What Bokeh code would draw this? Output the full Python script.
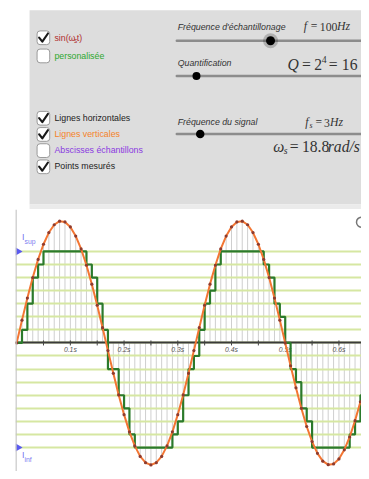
import math
from bokeh.plotting import figure
from bokeh.layouts import column
from bokeh.models import Range1d, Span
from bokeh.core.properties import value
from bokeh.embed import file_html
from bokeh.resources import INLINE

# ---------------- data ----------------
sample_times = [0.00, 0.01, 0.02, 0.03, 0.04, 0.05, 0.06, 0.07, 0.08, 0.09,
                0.10, 0.11, 0.12, 0.13, 0.14, 0.15, 0.16, 0.17, 0.18, 0.19,
                0.20, 0.21, 0.22, 0.23, 0.24, 0.25, 0.26, 0.27, 0.28, 0.29,
                0.30, 0.31, 0.32, 0.33, 0.34, 0.35, 0.36, 0.37, 0.38, 0.39,
                0.40, 0.41, 0.42, 0.43, 0.44, 0.45, 0.46, 0.47, 0.48, 0.49,
                0.50, 0.51, 0.52, 0.53, 0.54, 0.55, 0.56, 0.57, 0.58, 0.59,
                0.60, 0.61, 0.62, 0.63, 0.64]
measured = [0.000, 0.187, 0.368, 0.536, 0.685, 0.809, 0.905, 0.969, 0.998, 0.992,
            0.951, 0.876, 0.771, 0.637, 0.482, 0.309, 0.125, -0.063, -0.249, -0.426,
            -0.588, -0.729, -0.844, -0.930, -0.982, -1.000, -0.982, -0.930, -0.844, -0.729,
            -0.588, -0.426, -0.249, -0.063, 0.125, 0.309, 0.482, 0.637, 0.771, 0.876,
            0.951, 0.992, 0.998, 0.969, 0.905, 0.809, 0.685, 0.536, 0.368, 0.187,
            0.000, -0.187, -0.368, -0.536, -0.685, -0.809, -0.905, -0.969, -0.998, -0.992,
            -0.951, -0.876, -0.771, -0.637, -0.482]
held_steps = [0, 1, 3, 5, 6, 7, 7, 7, 7, 7,
              7, 7, 7, 6, 5, 3, 1, -2, -2, -4,
              -5, -7, -8, -8, -8, -8, -8, -8, -8, -7,
              -6, -4, -2, -1, 1, 3, 4, 6, 7, 7,
              7, 7, 7, 7, 7, 7, 6, 5, 3, 2,
              0, -2, -3, -5, -6, -8, -8, -8, -8, -8,
              -8, -8, -7, -6, -4]
quant_levels = [-0.858, -0.750, -0.643, -0.536, -0.429, -0.322, -0.214, -0.107,
                0.0, 0.107, 0.214, 0.322, 0.429, 0.536, 0.643, 0.750]
hold_end = 0.65
tick_values = [0.1, 0.2, 0.3, 0.4, 0.5, 0.6]
tick_labels = ["0.1s", "0.2s", "0.3s", "0.4s", "0.5s", "0.6s"]
tick_marks = [0.05, 0.1, 0.15, 0.2, 0.25, 0.3, 0.35, 0.4, 0.45, 0.5, 0.55, 0.6]

held_y = [quant_levels[n + 8] for n in held_steps]

W = 361
H_TOP = 209
H_CHART = 262
S = 0.978  # overall scale of the layout
SANS = value("Liberation Sans")
SERIF = value("Liberation Serif")


def fs(px):
    return f"{px * S:.2f}px"


# ---------------- control panel ----------------
top = figure(width=W, height=H_TOP, x_range=Range1d(0, 369), y_range=Range1d(213, 0),
             output_backend="svg", toolbar_location=None,
             x_axis_location=None, y_axis_location=None, min_border=0,
             outline_line_color=None, background_fill_color="white",
             border_fill_color="white")
top.grid.visible = False
top.quad(left=[15], right=[369], top=[10], bottom=[208], fill_color="#dddddd", line_color=None)
top.quad(left=[15], right=[369], top=[208], bottom=[213], fill_color="#ebebeb", line_color=None)


def txt(x, y, s, size, color="#333333", font=SANS, style="normal"):
    top.text(x=[x], y=[y], text=[s], text_font=font, text_font_size=fs(size),
             text_font_style=style, text_color=color, text_baseline="middle",
             text_align="left")


boxes = [(31, True), (49.5, False), (113, True), (129.5, True), (146, False), (162.5, True)]
for ytop, checked in boxes:
    top.quad(left=[23], right=[36.5], top=[ytop], bottom=[ytop + 14], fill_color="white",
             line_color="#9a9a9a", line_width=1, border_radius=3)
    if checked:
        top.multi_line(xs=[[25.2, 28.6, 34.6]], ys=[[ytop + 6.8, ytop + 11, ytop + 2.6]],
                       line_color="#1a1a1a", line_width=2.1, line_join="round", line_cap="round")

txt(41.5, 38, "sin(ω", 9, "#b02e2e")
txt(62.3, 40.5, "s", 6.5, "#b02e2e")
txt(65.3, 38, "t)", 9, "#b02e2e")
txt(41.5, 56.5, "personalisée", 9, "#2ea82e")
txt(41.5, 119.5, "Lignes horizontales", 9, "#222222")
txt(41.5, 136, "Lignes verticales", 9, "#f5822a")
txt(41.5, 152.5, "Abscisses échantillons", 9, "#8a3ae0")
txt(41.5, 169, "Points mesurés", 9, "#222222")

for ys in (41, 77, 136):
    top.segment(x0=[172], y0=[ys], x1=[369], y1=[ys], line_color="#8c8c8c",
                line_width=2.4, line_cap="round")
top.scatter(x=[272], y=[41], size=15, fill_color="black", fill_alpha=0.2, line_color=None)
top.scatter(x=[272], y=[41], size=9, fill_color="black", line_color=None)
top.scatter(x=[193], y=[77], size=8, fill_color="black", line_color=None)
top.scatter(x=[197], y=[136], size=8.5, fill_color="black", line_color=None)

txt(173, 27, "Fréquence d'échantillonage", 9, "#333333", style="italic")
txt(173, 64, "Quantification", 9, "#333333", style="italic")
txt(173, 124, "Fréquence du signal", 9, "#333333", style="italic")

txt(307.5, 27, "f", 12, "#333333", SERIF, "italic")
txt(315, 27, "=", 12, "#333333", SERIF)
txt(324.5, 27, "100", 12, "#333333", SERIF)
txt(343, 27, "Hz", 12, "#333333", SERIF, "italic")

txt(290, 65.5, "Q", 16, "#333333", SERIF, "italic")
txt(305.5, 65.5, "=", 16, "#333333", SERIF)
txt(318.5, 65.5, "2", 16, "#333333", SERIF)
txt(326.5, 60.5, "4", 10, "#333333", SERIF)
txt(334, 65.5, "=", 16, "#333333", SERIF)
txt(348, 65.5, "16", 16, "#333333", SERIF)

txt(309, 124.5, "f", 12, "#333333", SERIF, "italic")
txt(313.5, 127.5, "s", 8, "#333333", SERIF, "italic")
txt(320, 124.5, "=", 12, "#333333", SERIF)
txt(329, 124.5, "3", 12, "#333333", SERIF)
txt(335.5, 124.5, "Hz", 12, "#333333", SERIF, "italic")

txt(275, 149, "ω", 16, "#333333", SERIF, "italic")
txt(286, 152.5, "s", 10, "#333333", SERIF, "italic")
txt(292.5, 149, "=", 16, "#333333", SERIF)
txt(305.5, 149, "18.8", 16, "#333333", SERIF)
txt(333, 149, "rad/s", 16, "#333333", SERIF, "italic")

# ---------------- signal chart ----------------
chart = figure(width=W, height=H_CHART, x_range=Range1d(-0.0021, 0.642),
               y_range=Range1d(-1.054, 1.094), output_backend="svg",
               toolbar_location=None, x_axis_location=None, y_axis_location=None,
               min_border=0, min_border_left=15, outline_line_color=None,
               background_fill_color="white", border_fill_color="white")
chart.grid.visible = False

# vertical lines (stems)
chart.segment(x0=sample_times, y0=[0] * len(sample_times), x1=sample_times, y1=measured,
              line_color="#cfcfcf", line_width=1)
# horizontal quantisation lines
chart.hspan(y=quant_levels, line_color="#d6e7a2", line_width=2)
# time axis
chart.hspan(y=[0], line_color="#3a3a3a", line_width=1.8)
chart.scatter(x=tick_marks, y=[0] * len(tick_marks), marker="dash", angle=math.pi / 2,
              size=5, line_color="#444444", line_width=1)
chart.text(x=tick_values, y=[0] * len(tick_values), text=tick_labels, text_align="center",
           text_baseline="top", y_offset=3, text_font=SANS, text_font_size=fs(7),
           text_font_style="italic", text_color="#555555")

# sampled and held quantised signal
chart.step(x=sample_times + [hold_end], y=held_y + [held_y[-1]], mode="after",
           line_color="#2b7a2b", line_width=2.2)
# signal
chart.line(sample_times, measured, line_color="#f37633", line_width=2)
# measured points
chart.scatter(sample_times, measured, size=3.2, fill_color="#8e3b2e", line_color=None)

# Isup / Iinf markers
chart.scatter(x=[0.0025, 0.0025], y=[quant_levels[-1], quant_levels[0]], marker="triangle",
              angle=-math.pi / 2, size=8, fill_color="#5a5af0", line_color=None)
chart.text(x=[0.0025], y=[quant_levels[-1]], text=["I"], x_offset=4, y_offset=-14,
           text_font=SANS, text_font_size=fs(9), text_color="#7070f0",
           text_baseline="middle", text_align="left")
chart.text(x=[0.0025], y=[quant_levels[-1]], text=["sup"], x_offset=6.5, y_offset=-9.5,
           text_font=SANS, text_font_size=fs(7), text_color="#7c7cf0",
           text_baseline="middle", text_align="left")
chart.text(x=[0.0025], y=[quant_levels[0]], text=["I"], x_offset=4, y_offset=7.5,
           text_font=SANS, text_font_size=fs(9), text_color="#7070f0",
           text_baseline="middle", text_align="left")
chart.text(x=[0.0025], y=[quant_levels[0]], text=["inf"], x_offset=6.5, y_offset=11.5,
           text_font=SANS, text_font_size=fs(7), text_color="#7c7cf0",
           text_baseline="middle", text_align="left")

# reset icon, partly cut at the right edge
chart.arc(x=[0.642], y=[0.99], radius=5, radius_units="screen", start_angle=math.pi / 2,
          end_angle=3 * math.pi / 2, line_color="#777777", line_width=1.5)

chart.add_layout(Span(location=-0.0012, dimension="height", line_color="#c4c4c4",
                      line_width=1.5))

layout = column(top, chart)
open("out.html", "w").write(file_html(layout, INLINE))
